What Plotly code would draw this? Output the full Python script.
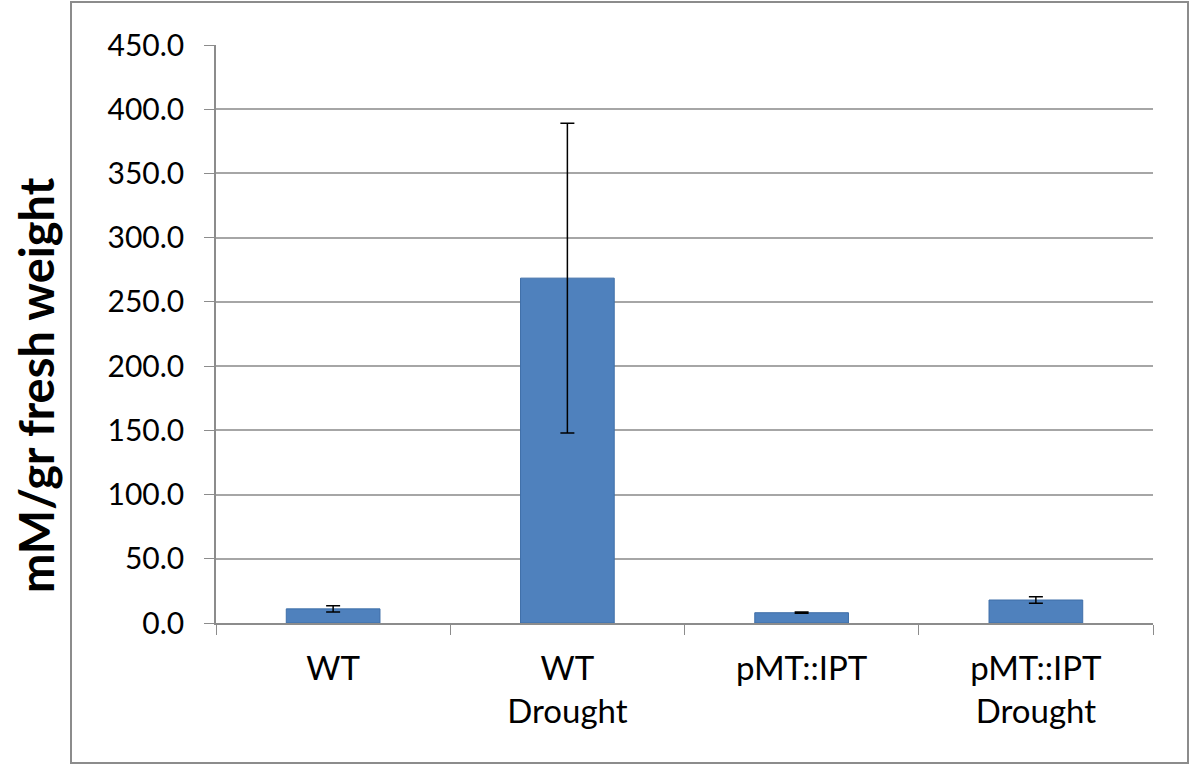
import plotly.graph_objects as go

categories = ["WT", "WT<br>Drought", "pMT::IPT", "pMT::IPT<br>Drought"]
values = [11.0, 268.5, 8.0, 17.9]
errors = [2.5, 120.5, 0.5, 2.6]
y_ticks = [0, 50, 100, 150, 200, 250, 300, 350, 400, 450]
y_title = "mM/gr fresh weight"

W, H = 1194, 770
L, R, T, B = 216, 1153, 45, 623
pw, ph = R - L, B - T

fig = go.Figure()
fig.add_trace(go.Bar(
    x=categories, y=values,
    marker=dict(color="#4F81BD", line=dict(color="#3F6FA8", width=1)),
    error_y=dict(type="data", array=errors, visible=True, color="black", thickness=1.5, width=7),
    width=0.4,
))

def px(x):
    return (x - L) / pw

def py(y):
    return (B - y) / ph

fig.add_shape(type="rect", xref="paper", yref="paper",
              x0=px(71), x1=px(1188), y0=py(763), y1=py(2),
              line=dict(color="#8c8c8c", width=2), layer="below")

fig.add_annotation(xref="paper", yref="paper", x=px(36), y=py(385),
                   text="<b>" + y_title + "</b>", textangle=-90, showarrow=False,
                   xanchor="center", yanchor="middle",
                   font=dict(size=47, color="black"))

fig.update_layout(
    width=W, height=H,
    margin=dict(l=L, r=W - R, t=T, b=H - B),
    paper_bgcolor="white", plot_bgcolor="white",
    showlegend=False,
    font=dict(family="Lato, Open Sans, sans-serif", color="black"),
    xaxis=dict(
        type="category", tickson="boundaries", ticks="outside", ticklen=10,
        tickcolor="#8c8c8c", showline=True, linecolor="#8c8c8c", linewidth=1.5,
        tickfont=dict(size=33), showgrid=False, ticklabelstandoff=16,
    ),
    yaxis=dict(
        range=[0, 450], tickvals=y_ticks, tickformat=".1f",
        ticks="outside", ticklen=10, tickcolor="#8c8c8c",
        showline=True, linecolor="#8c8c8c", linewidth=1.5,
        showgrid=True, gridcolor="#a6a6a6", gridwidth=1.5,
        tickfont=dict(size=30), ticklabelstandoff=14,
    ),
)

fig.write_html("out.html", config={"displayModeBar": False},
               post_script="document.body.style.margin='0';document.body.style.overflow='hidden';")
